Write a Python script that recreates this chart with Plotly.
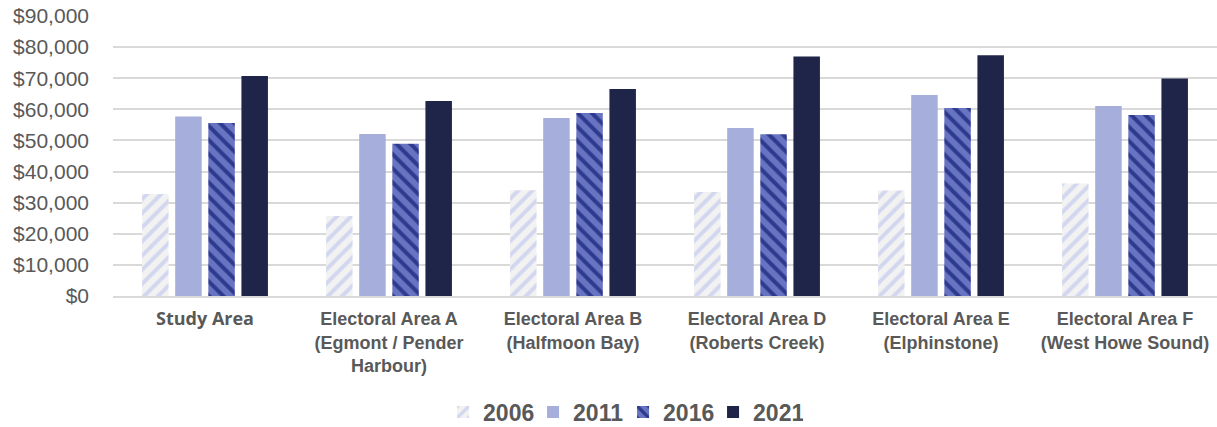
import plotly.graph_objects as go

categories = [
    "<span style=\"font-family:'Open Sans'\">Study Area</span>",
    "Electoral Area A<br>(Egmont / Pender<br>Harbour)",
    "Electoral Area B<br>(Halfmoon Bay)",
    "Electoral Area D<br>(Roberts Creek)",
    "Electoral Area E<br>(Elphinstone)",
    "Electoral Area F<br>(West Howe Sound)",
]
years = ["2006", "2011", "2016", "2021"]
v2006 = [32800, 25700, 34000, 33400, 33900, 36200]
v2011 = [57700, 52100, 57200, 54000, 64600, 61100]
v2016 = [55600, 48900, 58800, 52000, 60400, 58200]
v2021 = [70700, 62700, 66500, 77000, 77400, 69900]
series = [v2006, v2011, v2016, v2021]

tick_vals = [0, 10000, 20000, 30000, 40000, 50000, 60000, 70000, 80000, 90000]
tick_text = ["$0", "$10,000", "$20,000", "$30,000", "$40,000", "$50,000",
             "$60,000", "$70,000", "$80,000", "$90,000"]

styles = [
    dict(color="#f2f2f2", pattern=dict(shape="/", fgcolor="#d2d7ef", bgcolor="#f2f2f2",
                                         size=10, solidity=0.4, fillmode="replace")),
    dict(color="#a6aedc"),
    dict(color="#6874c2", pattern=dict(shape="\\", fgcolor="#2d3a8e", bgcolor="#6874c2",
                                         size=10, solidity=0.4, fillmode="replace")),
    dict(color="#1f2449"),
]

fig = go.Figure()
for name, vals, st in zip(years, series, styles):
    fig.add_trace(go.Bar(x=categories, y=vals, name=name,
                         marker=dict(**st, line=dict(width=0))))

fig.update_layout(
    width=1217, height=427,
    margin=dict(l=113, r=0, t=16, b=131, autoexpand=False),
    paper_bgcolor="white", plot_bgcolor="white",
    barmode="group", bargap=0.28, bargroupgap=0.2,
    font=dict(family="Liberation Sans, Arial, sans-serif", color="#595959"),
    showlegend=True,
    legend=dict(orientation="h", x=0.462, xanchor="center",
                yref="container", y=0.035, yanchor="middle",
                font=dict(size=23, weight="bold", color="#595959"),
                entrywidth=45, itemwidth=30, traceorder="normal"),
    xaxis=dict(showgrid=False, showline=True, linecolor="#d9d9d9", linewidth=1.5,
               ticks="", ticklabelstandoff=6, automargin=False,
               tickfont=dict(size=18, weight="bold",
                             family="Liberation Sans, Arial", color="#595959"),
               tickangle=0),
    yaxis=dict(range=[0, 90000], tickvals=tick_vals, ticktext=tick_text,
               showgrid=True, gridcolor="#d9d9d9", gridwidth=1.5, zeroline=False,
               ticks="", ticklabelstandoff=23, automargin=False,
               tickfont=dict(size=21, color="#595959")),
)

fig.write_html("out.html")
